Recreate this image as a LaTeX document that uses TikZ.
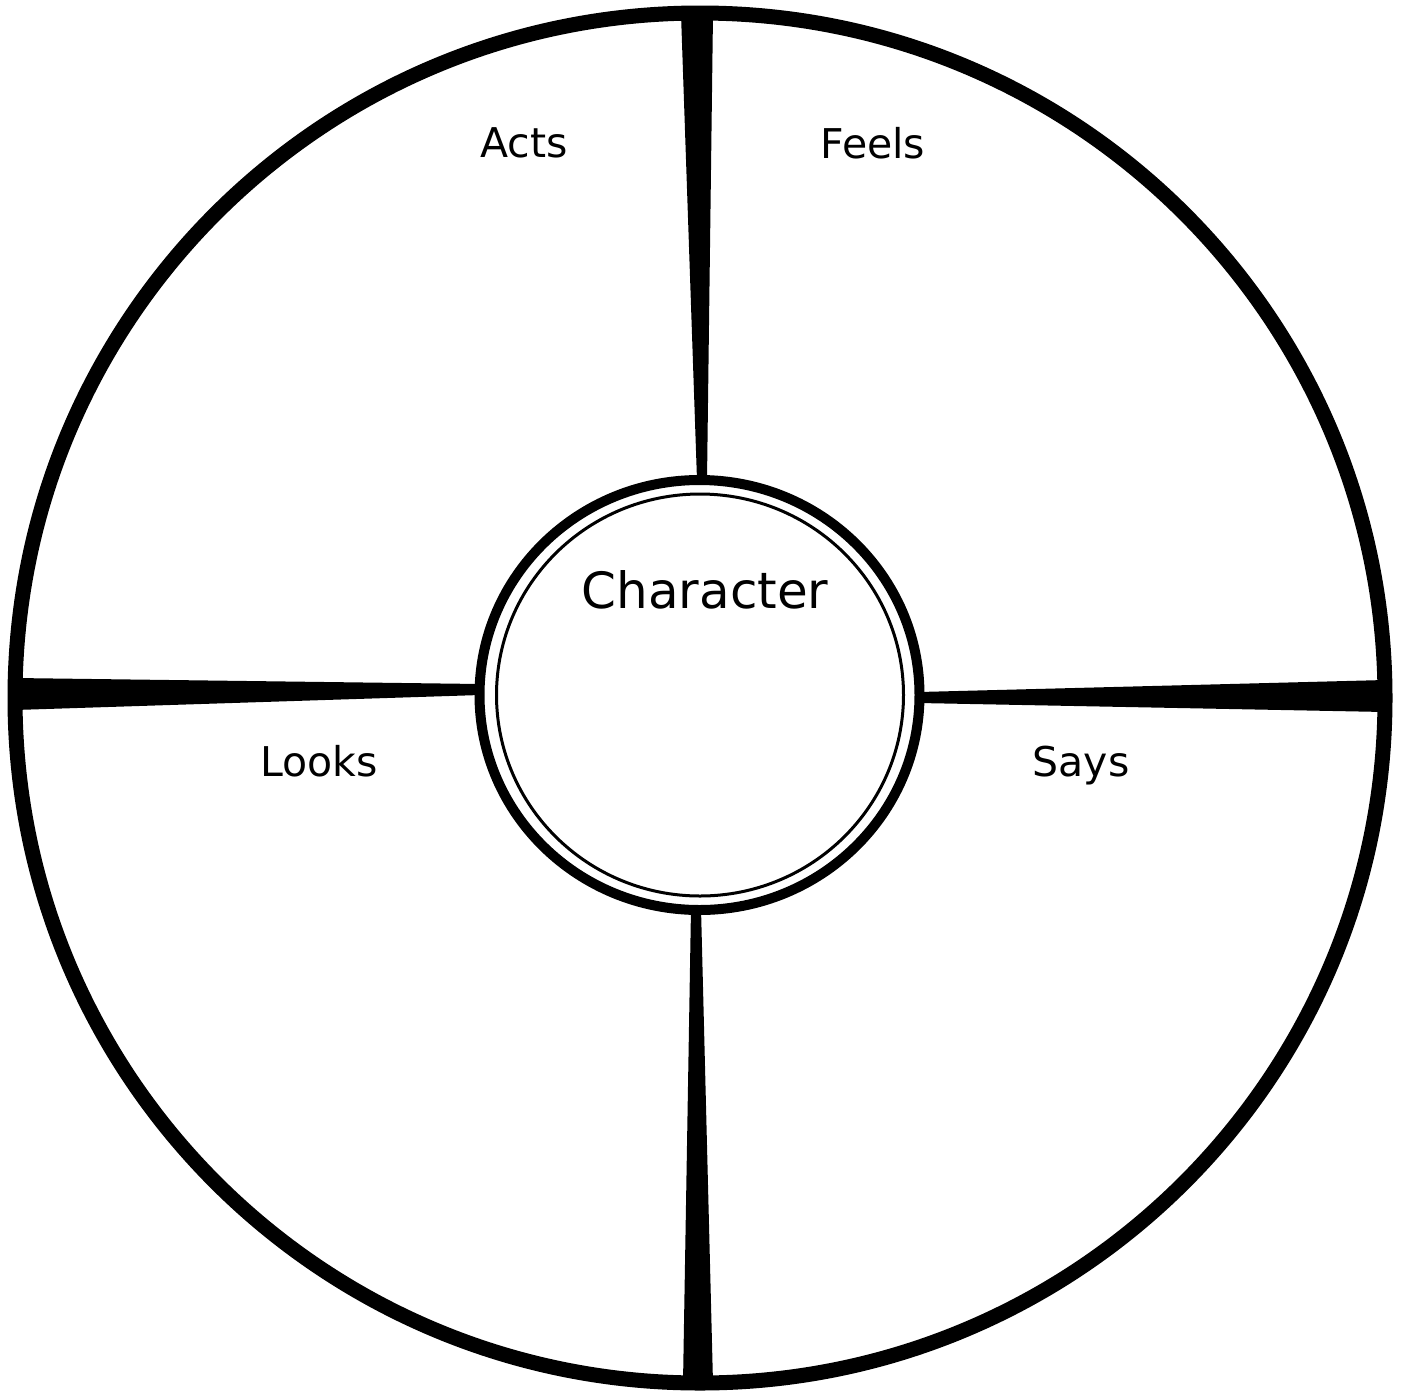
\documentclass[tikz,border=0pt]{standalone}
\usepackage{fontspec}
\setmainfont{DejaVu Sans}
\begin{document}
\begin{tikzpicture}[x=1pt,y=-1pt,
  spoke/.style={fill=black,draw=none},
  lbl/.style={inner sep=0pt,anchor=base,font=\fontsize{41}{48}\selectfont},
  ttl/.style={inner sep=0pt,anchor=base,font=\fontsize{50}{58}\selectfont}]
\useasboundingbox (0,0) rectangle (1403,1390);
\fill[white] (0,0) rectangle (1403,1390);
% spokes
\fill[spoke] (681,14) -- (713,14) -- (707,480) -- (697,480) -- cycle;
\fill[spoke] (15,678) -- (15,710) -- (480,695) -- (480,684) -- cycle;
\fill[spoke] (1385,680) -- (1385,712) -- (919,703) -- (919,692) -- cycle;
\fill[spoke] (683,1383) -- (713,1383) -- (701,908) -- (691,908) -- cycle;
% outer circle
\draw[line width=15pt] (700,698) circle (685);
% inner hub
\fill[white] (699.5,695) ellipse [x radius=220, y radius=215];
\draw[line width=10pt] (699.5,695) ellipse [x radius=220, y radius=215];
\draw[line width=3pt] (700,695) ellipse [x radius=203.5, y radius=201];
% labels
\node[ttl] (character) at (705,608) {Character};
\node[lbl] (acts) at (524,157) {Acts};
\node[lbl] (feels) at (873,158) {Feels};
\node[lbl] (looks) at (319,776) {Looks};
\node[lbl] (says) at (1081,776) {Says};
\end{tikzpicture}
\end{document}
